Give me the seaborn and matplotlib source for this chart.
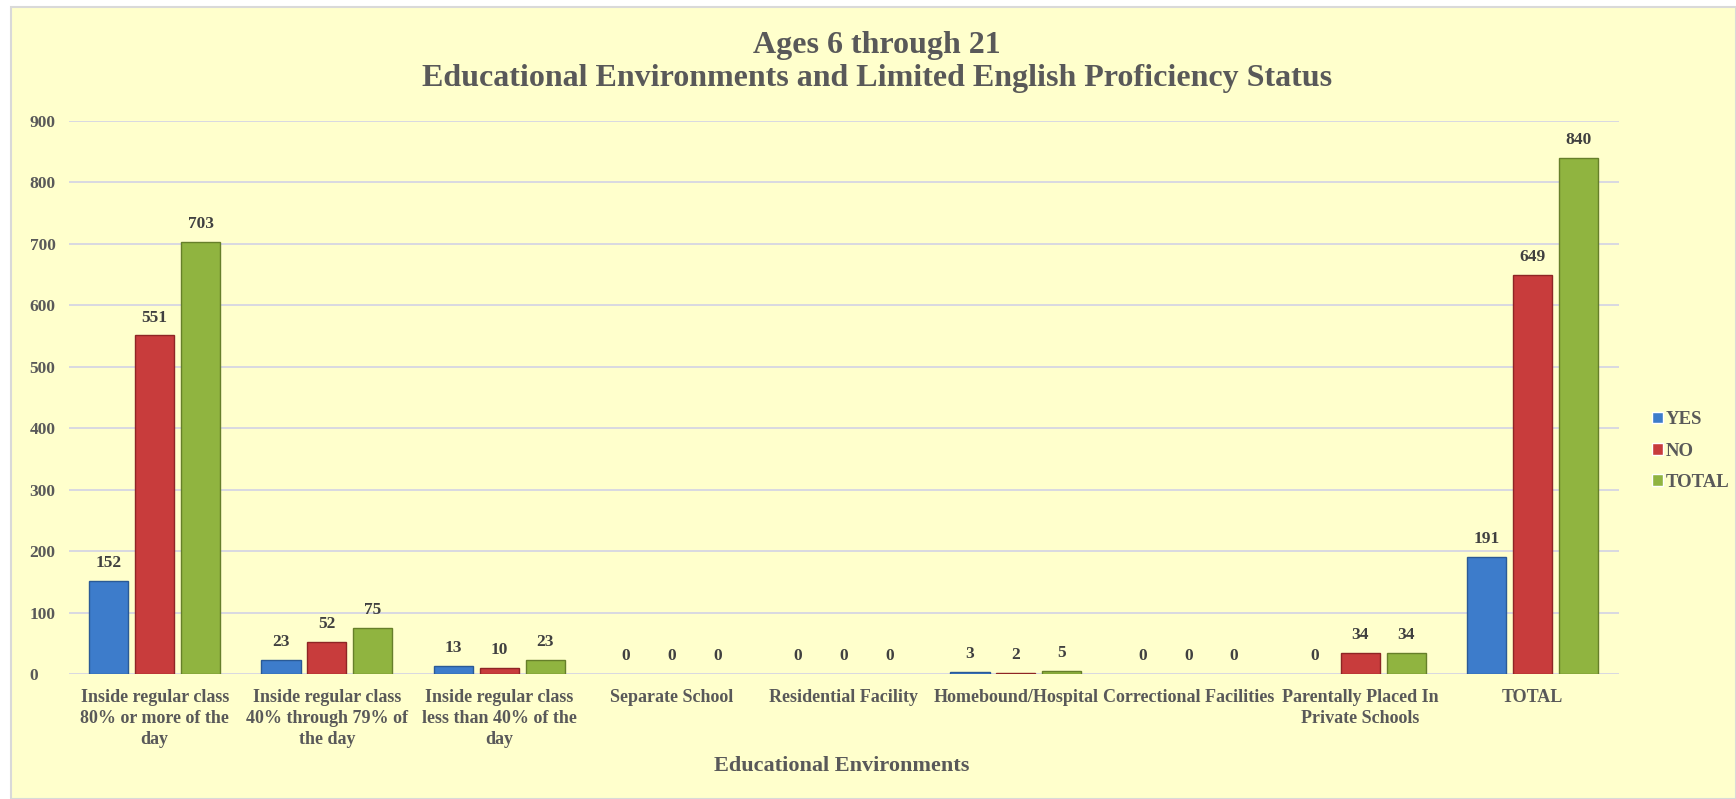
import pandas as pd
import matplotlib
matplotlib.use("Agg")
import matplotlib.pyplot as plt
import seaborn as sns
from matplotlib.patches import Rectangle

# chart data
categories = [
    "Inside regular class 80% or more of the day",
    "Inside regular class 40% through 79% of the day",
    "Inside regular class less than 40% of the day",
    "Separate School",
    "Residential Facility",
    "Homebound/Hospital",
    "Correctional Facilities",
    "Parentally Placed In Private Schools",
    "TOTAL",
]
tick_labels = [
    "Inside regular class\n80% or more of the\nday",
    "Inside regular class\n40% through 79% of\nthe day",
    "Inside regular class\nless than 40% of the\nday",
    "Separate School",
    "Residential Facility",
    "Homebound/Hospital",
    "Correctional Facilities",
    "Parentally Placed In\nPrivate Schools",
    "TOTAL",
]
yes_vals = [152, 23, 13, 0, 0, 3, 0, 0, 191]
no_vals = [551, 52, 10, 0, 0, 2, 0, 34, 649]
total_vals = [703, 75, 23, 0, 0, 5, 0, 34, 840]
series = ["YES", "NO", "TOTAL"]
colors = {"YES": "#3D7CCB", "NO": "#C83C3C", "TOTAL": "#90B440"}
edges = {"YES": "#2A5A96", "NO": "#8E2525", "TOTAL": "#667F2A"}

df = pd.DataFrame({
    "Environment": categories * 3,
    "Status": ["YES"] * 9 + ["NO"] * 9 + ["TOTAL"] * 9,
    "Count": yes_vals + no_vals + total_vals,
})

sns.set_theme(style="white")
plt.rcParams["font.family"] = ["Liberation Serif", "DejaVu Serif"]
plt.rcParams["font.weight"] = "bold"

text_col = "#595959"
bg = "#FFFFCC"

fig = plt.figure(figsize=(17.36, 7.99), dpi=100, facecolor="white")
# chart area with thin border
frame = Rectangle((11 / 1736, 0), 1 - 11 / 1736, 1 - 7 / 799,
                  transform=fig.transFigure, facecolor=bg,
                  edgecolor="#D9D9D9", linewidth=1.5, zorder=-10)
fig.add_artist(frame)

ax = fig.add_axes([0.0395, 0.1564, 0.893, 0.6922])
ax.set_zorder(1)
ax.patch.set_alpha(0)

sns.barplot(data=df, x="Environment", y="Count", hue="Status",
            hue_order=series, order=categories, palette=colors,
            width=0.8, gap=0.15, saturation=1, ax=ax, zorder=3)

for cont, s in zip(ax.containers, series):
    for bar in cont:
        bar.set_edgecolor(edges[s])
        # zero bars show nothing in the original
        bar.set_linewidth(1.0 if bar.get_height() > 0 else 0)
    ax.bar_label(cont, padding=7, fontsize=12.5, fontweight="bold", color="#404040")

ax.set_ylim(0, 900)
ax.set_yticks(range(0, 901, 100))
ax.yaxis.grid(True, color="#D5D6E3", linewidth=1.3, zorder=0)
ax.set_axisbelow(True)
for sp in ax.spines.values():
    sp.set_visible(False)
ax.tick_params(axis="both", length=0, labelsize=12.5, colors=text_col)
ax.tick_params(axis="y", pad=28)
ax.tick_params(axis="x", pad=11)
ax.set_xticks(range(len(categories)))
ax.set_xticklabels(tick_labels, fontweight="bold", color=text_col,
                   linespacing=1.3, fontsize=13)
for lab in ax.get_yticklabels():
    lab.set_fontweight("bold")
    lab.set_horizontalalignment("left")
ax.set_ylabel("")
ax.set_xlabel("")

fig.text(842 / 1736, 1 - 766 / 799, "Educational Environments", ha="center", va="center",
         fontsize=16, fontweight="bold", color=text_col)
fig.text(877 / 1736, 1 - 62 / 799,
         "Ages 6 through 21\nEducational Environments and Limited English Proficiency Status",
         ha="center", va="center", fontsize=23, fontweight="bold", color=text_col,
         linespacing=1.15)

handles, labels = ax.get_legend_handles_labels()
ax.legend_.remove()
leg = fig.legend(handles, labels, loc="center left", bbox_to_anchor=(1643 / 1736, 1 - 451 / 799),
                 frameon=False, fontsize=13.5, handlelength=0.55, handleheight=0.55,
                 handletextpad=0.15, labelspacing=0.75, borderpad=0)
for t in leg.get_texts():
    t.set_color(text_col)
    t.set_fontweight("bold")

fig.savefig("out.png", dpi=100, facecolor="white")
